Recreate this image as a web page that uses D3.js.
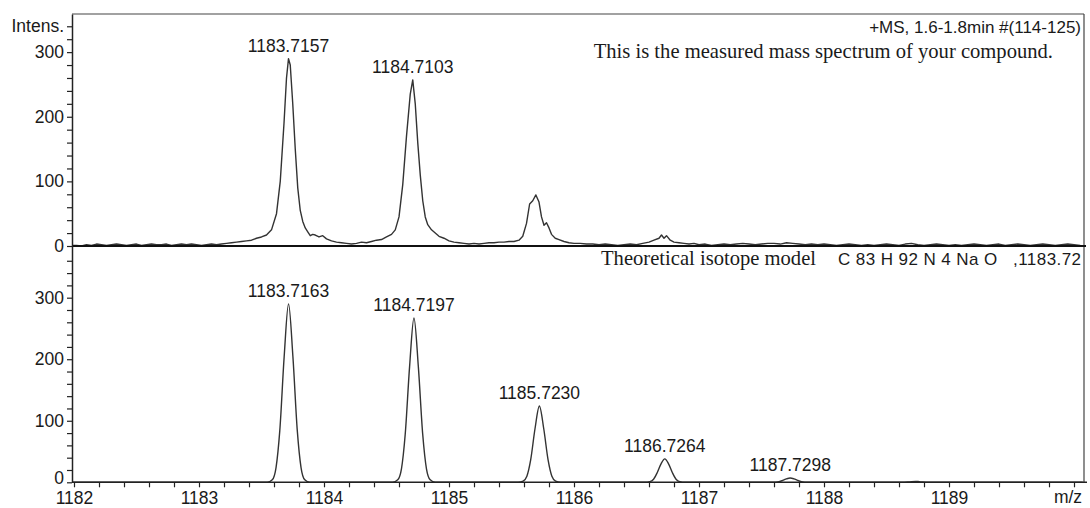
<!DOCTYPE html>
<html>
<head>
<meta charset="utf-8">
<script src="https://cdn.jsdelivr.net/npm/d3@7"></script>
<style>
  html, body { margin: 0; padding: 0; background: #fff; }
  svg { display: block; }
  text { white-space: pre; }
</style>
</head>
<body>
<svg id="chart" width="1090" height="508"></svg>
<script>
// ---------- DATA ----------
const measuredMz = [
  1181.984,1182.02,1182.06,1182.10,1182.14,1182.18,1182.22,1182.26,1182.30,1182.34,
  1182.38,1182.42,1182.46,1182.50,1182.54,1182.58,1182.62,1182.66,1182.70,1182.74,
  1182.78,1182.82,1182.86,1182.90,1182.94,1182.98,1183.02,1183.06,1183.10,1183.14,
  1183.18,1183.22,1183.26,1183.30,1183.34,1183.38,1183.42,1183.46,1183.50,1183.54,
  1183.58,1183.62,1183.65,1183.68,1183.70,1183.716,1183.73,1183.75,1183.77,1183.79,
  1183.81,1183.83,1183.85,1183.87,1183.89,1183.91,1183.93,1183.96,1183.99,1184.02,
  1184.06,1184.10,1184.14,1184.18,1184.22,1184.26,1184.30,1184.34,1184.38,1184.42,
  1184.46,1184.50,1184.54,1184.57,1184.60,1184.63,1184.66,1184.69,1184.71,1184.73,
  1184.75,1184.77,1184.79,1184.81,1184.83,1184.86,1184.89,1184.92,1184.96,1185.00,
  1185.04,1185.08,1185.12,1185.16,1185.20,1185.24,1185.28,1185.32,1185.36,1185.40,
  1185.44,1185.48,1185.52,1185.56,1185.59,1185.62,1185.645,1185.67,1185.695,1185.72,
  1185.74,1185.76,1185.78,1185.80,1185.82,1185.85,1185.88,1185.92,1185.96,1186.00,
  1186.05,1186.10,1186.15,1186.20,1186.25,1186.30,1186.35,1186.40,1186.45,1186.50,
  1186.55,1186.60,1186.64,1186.68,1186.70,1186.72,1186.74,1186.77,1186.80,1186.84,
  1186.88,1186.92,1186.96,1187.00,1187.05,1187.10,1187.15,1187.20,1187.25,1187.30,
  1187.35,1187.40,1187.45,1187.50,1187.55,1187.60,1187.65,1187.70,1187.75,1187.80,
  1187.85,1187.90,1187.95,1188.00,1188.05,1188.10,1188.15,1188.20,1188.25,1188.30,
  1188.35,1188.40,1188.45,1188.50,1188.55,1188.60,1188.65,1188.70,1188.75,1188.80,
  1188.85,1188.90,1188.95,1189.00,1189.05,1189.10,1189.15,1189.20,1189.25,1189.30,
  1189.35,1189.40,1189.45,1189.50,1189.55,1189.60,1189.65,1189.70,1189.75,1189.80,
  1189.85,1189.90,1189.95,1190.00,1190.05
];
const measuredIntensity = [
  1,1,0,2,1,3,2,1,2,3,
  2,1,2,3,1,2,3,2,2,3,
  1,2,3,2,3,2,1,2,3,2,
  3,4,5,6,7,8,9,12,14,17,
  25,50,100,190,260,290,280,220,150,90,
  55,38,28,22,16,18,17,14,16,11,
  8,6,5,4,3,4,6,5,7,9,
  10,14,18,25,45,95,170,235,257,220,
  160,110,70,45,33,25,20,15,12,8,
  6,5,4,3,4,3,4,5,5,6,
  6,7,7,9,15,35,65,70,79,68,
  45,32,36,28,18,12,10,7,5,4,
  4,3,3,2,3,2,1,2,3,2,
  4,6,9,12,17,12,16,9,6,5,
  4,3,4,2,3,1,2,3,2,3,
  4,3,2,3,4,4,3,5,4,3,
  2,3,2,3,2,1,2,3,2,1,
  2,1,2,3,2,1,3,4,2,1,
  2,3,2,1,2,1,2,3,2,1,
  2,3,1,2,3,2,1,2,3,2,
  1,2,3,2,1
];

const theoMz = [
  1181.984,1183.40,
  1183.5463,1183.5863,1183.6163,1183.6463,1183.6813,1183.7163,1183.7513,1183.7863,1183.8163,1183.8463,1183.8863,
  1184.5497,1184.5897,1184.6197,1184.6497,1184.6847,1184.7197,1184.7547,1184.7897,1184.8197,1184.8497,1184.8897,
  1185.553,1185.593,1185.623,1185.653,1185.688,1185.723,1185.758,1185.793,1185.823,1185.853,1185.893,
  1186.5664,1186.6064,1186.6364,1186.6664,1186.6964,1186.7264,1186.7564,1186.7864,1186.8164,1186.8464,1186.8864,
  1187.5698,1187.6098,1187.6398,1187.6698,1187.6998,1187.7298,1187.7598,1187.7898,1187.8198,1187.8498,1187.8898,
  1188.62,1188.67,1188.70,1188.733,1188.76,1188.79,1188.84,
  1190.07
];
const theoIntensity = [
  0,0,
  0,4,24,84,204,290,204,84,24,4,0,
  0,4,22,78,188,267,188,78,22,4,0,
  0,2,10,36,87,124,87,36,10,2,0,
  0,1,5,16,30,38,30,16,5,1,0,
  0,0.3,1,3,5.6,7,5.6,3,1,0.3,0,
  0,0.4,1.1,1.5,1.1,0.4,0,
  0
];

const topLabels = ["1183.7157", "1184.7103"];
const topLabelMz = [1183.7157, 1184.7103];
const topLabelInt = [290, 257];

const bottomLabels = ["1183.7163", "1184.7197", "1185.7230", "1186.7264", "1187.7298"];
const bottomLabelMz = [1183.7163, 1184.7197, 1185.7230, 1186.7264, 1187.7298];
const bottomLabelInt = [290, 267, 124, 38, 7];

const xTickLabels = ["1182","1183","1184","1185","1186","1187","1188","1189"];
const yTickLabels = ["0","100","200","300"];
const headerText = "+MS, 1.6-1.8min #(114-125)";
const noteText = "This is the measured mass spectrum of your compound.";
const modelText = "Theoretical isotope model";
const formulaText = "C 83 H 92 N 4 Na O   ,1183.72";

// ---------- LAYOUT ----------
const L = 72, R = 1084;
const topY0 = 246, topY1 = 14;
const botY0 = 482.3, botY1 = 246;
const sans = "'Liberation Sans', Arial, Helvetica, sans-serif";
const serif = "'Liberation Serif', 'Times New Roman', Times, serif";
const ink = "#1a1a1a";
const traceColor = "#333";

const svg = d3.select("#chart");

const x = d3.scaleLinear().domain([1181.984, 1181.984 + (R - L) / 125]).range([L, R]);
const yTop = d3.scaleLinear().domain([0, 359]).range([topY0, topY1]);
const yBot = d3.scaleLinear().domain([0, 384]).range([botY0, botY1]);

// traces
const measured = measuredMz.map((m, i) => [m, measuredIntensity[i]]);
const theo = theoMz.map((m, i) => [m, theoIntensity[i]]);

svg.append("path")
  .datum(measured)
  .attr("fill", "none")
  .attr("stroke", traceColor)
  .attr("stroke-width", 1.4)
  .attr("stroke-linejoin", "round")
  .attr("d", d3.line().x(d => x(d[0])).y(d => yTop(d[1])));

svg.append("path")
  .datum(theo)
  .attr("fill", "none")
  .attr("stroke", traceColor)
  .attr("stroke-width", 1.4)
  .attr("d", d3.line().curve(d3.curveMonotoneX).x(d => x(d[0])).y(d => yBot(d[1])));

// frame lines
svg.append("line").attr("x1", L).attr("x2", R).attr("y1", topY1).attr("y2", topY1)
  .attr("stroke", "#444").attr("stroke-width", 1.2);
svg.append("line").attr("x1", R).attr("x2", R).attr("y1", topY1).attr("y2", botY0)
  .attr("stroke", "#444").attr("stroke-width", 1.2);
svg.append("line").attr("x1", L).attr("x2", R + 2).attr("y1", topY0).attr("y2", topY0)
  .attr("stroke", "#111").attr("stroke-width", 2.2);

// y axes
function styleAxis(g) {
  g.select(".domain").attr("stroke", "#222").attr("stroke-width", 1.5);
  g.selectAll(".tick line").attr("stroke", "#222").attr("stroke-width", 1.2);
  g.selectAll(".tick text").attr("fill", ink).attr("font-family", sans).attr("font-size", 17.5);
}

const topTicks = d3.range(0, 18).map(i => i * 20);
const gTop = svg.append("g").attr("transform", `translate(${L},0)`)
  .call(d3.axisLeft(yTop).tickValues(topTicks).tickSize(5).tickPadding(3).tickSizeOuter(0)
    .tickFormat(d => yTickLabels.includes(String(d)) ? String(d) : (d === 340 ? "Intens." : "")));
styleAxis(gTop);

const botTicks = d3.range(0, 19).map(i => i * 20);
const gBot = svg.append("g").attr("transform", `translate(${L},0)`)
  .call(d3.axisLeft(yBot).tickValues(botTicks).tickSize(5).tickPadding(3).tickSizeOuter(0)
    .tickFormat(d => yTickLabels.includes(String(d)) ? String(d) : ""));
styleAxis(gBot);
gBot.selectAll(".tick text").filter(d => d === 0).attr("dy", "0.08em");

// x axis
const xTicks = d3.range(0, 41).map(i => +(1182 + i * 0.2).toFixed(1));
const gX = svg.append("g").attr("transform", `translate(0,${botY0})`)
  .call(d3.axisBottom(x).tickValues(xTicks).tickSize(5).tickPadding(4).tickSizeOuter(0)
    .tickFormat(d => xTickLabels.includes(String(d)) ? String(d) : ""));
styleAxis(gX);
gX.select(".domain").attr("d", `M${L},0H${R + 3}`);

svg.append("text").attr("x", 1068).attr("y", 503).attr("text-anchor", "middle")
  .attr("font-family", sans).attr("font-size", 17.5).attr("fill", ink).text("m/z");

// peak labels
topLabels.forEach((t, i) => {
  svg.append("text").attr("x", x(topLabelMz[i])).attr("y", yTop(topLabelInt[i]) - 7)
    .attr("text-anchor", "middle").attr("font-family", sans).attr("font-size", 17.5)
    .attr("fill", ink).text(t);
});
bottomLabels.forEach((t, i) => {
  svg.append("text").attr("x", x(bottomLabelMz[i])).attr("y", yBot(bottomLabelInt[i]) - 7)
    .attr("text-anchor", "middle").attr("font-family", sans).attr("font-size", 17.5)
    .attr("fill", ink).text(t);
});

// annotations
svg.append("text").attr("x", 1081).attr("y", 33).attr("text-anchor", "end")
  .attr("font-family", sans).attr("font-size", 17).attr("fill", ink).text(headerText);
svg.append("text").attr("x", 1053).attr("y", 58).attr("text-anchor", "end")
  .attr("font-family", serif).attr("font-size", 20.6).attr("fill", ink).text(noteText);
svg.append("text").attr("x", 601).attr("y", 265).attr("text-anchor", "start")
  .attr("font-family", serif).attr("font-size", 20.6).attr("fill", ink).text(modelText);
svg.append("text").attr("x", 838).attr("y", 265).attr("text-anchor", "start")
  .attr("font-family", sans).attr("font-size", 17).attr("fill", ink)
  .attr("textLength", 243).attr("lengthAdjust", "spacing").text(formulaText);
</script>
</body>
</html>
